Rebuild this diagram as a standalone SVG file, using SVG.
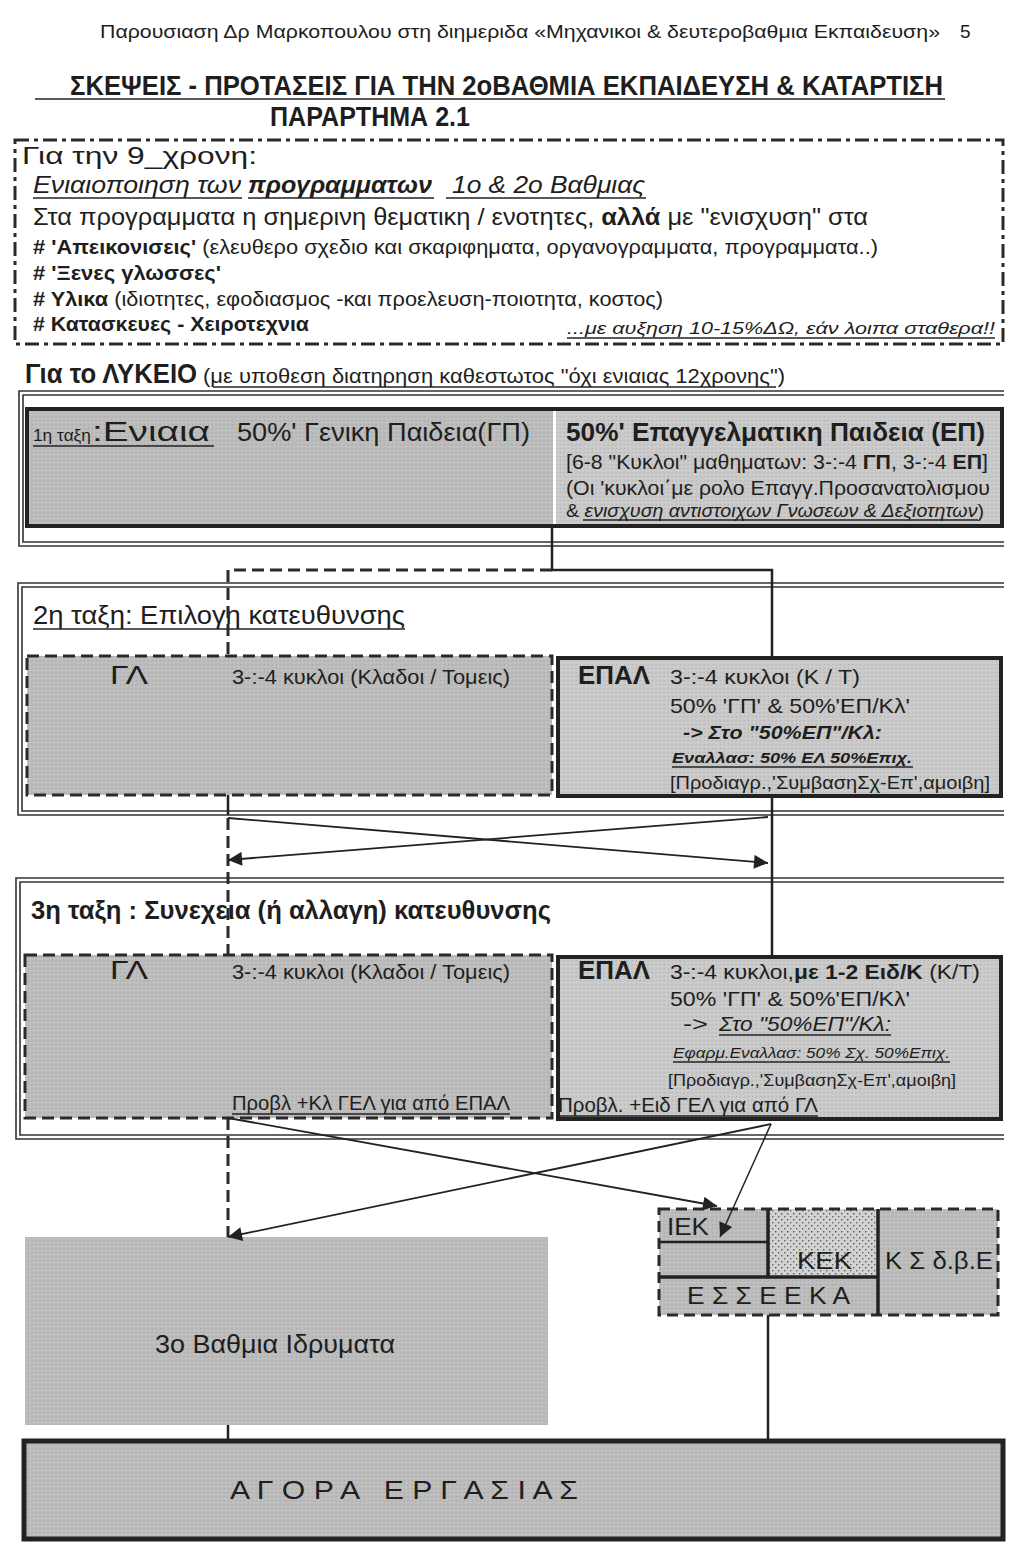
<svg xmlns="http://www.w3.org/2000/svg" width="1024" height="1552" viewBox="0 0 1024 1552">
<defs>
<style>
.t{font-family:"Liberation Sans",Arial,sans-serif;fill:#1e1e1e}
.b{font-weight:bold}
.i{font-style:italic}
.ln{stroke:#222;fill:none}
.frame{stroke:#333;stroke-width:1.6;fill:none}
.dash{stroke:#2a2a2a;stroke-width:3;fill:none;stroke-dasharray:12 6}
.ul{stroke:#222;stroke-width:1.5}
</style>
<pattern id="grain" width="4" height="4" patternUnits="userSpaceOnUse">
<rect width="4" height="4" fill="#bcbcbc"/>
<rect x="0" y="0" width="1" height="1" fill="#a9a9a9"/>
<rect x="2" y="2" width="1" height="1" fill="#cacaca"/>
<rect x="3" y="1" width="1" height="1" fill="#b0b0b0"/>
</pattern>
<pattern id="grainL" width="4" height="4" patternUnits="userSpaceOnUse">
<rect width="4" height="4" fill="#c9c9c9"/>
<rect x="0" y="0" width="1" height="1" fill="#b4b4b4"/>
<rect x="2" y="2" width="1" height="1" fill="#d6d6d6"/>
<rect x="3" y="1" width="1" height="1" fill="#bdbdbd"/>
</pattern>
<pattern id="dots" width="6" height="6" patternUnits="userSpaceOnUse">
<rect width="6" height="6" fill="#d2d2d2"/>
<rect x="1" y="1" width="1.4" height="1.4" fill="#555"/>
<rect x="4" y="4" width="1.4" height="1.4" fill="#666"/>
</pattern>
<marker id="ah" viewBox="0 0 10 10" refX="10" refY="5" markerWidth="18" markerHeight="14" markerUnits="userSpaceOnUse" orient="auto">
<path d="M0,0 L10,5 L0,10 z" fill="#222"/>
</marker>
</defs>
<rect width="1024" height="1552" fill="#ffffff"/>

<g id="header">
<text class="t" x="100" y="38" font-size="19" textLength="840" lengthAdjust="spacingAndGlyphs">Παρουσιαση Δρ Μαρκοπουλου στη διημεριδα «Μηχανικοι &amp; δευτεροβαθμια Εκπαιδευση»</text>
<text class="t" x="960" y="38" font-size="19">5</text>
<text class="t b" x="70" y="95" font-size="27" textLength="873" lengthAdjust="spacingAndGlyphs">ΣΚΕΨΕΙΣ - ΠΡΟΤΑΣΕΙΣ ΓΙΑ ΤΗΝ 2οΒΑΘΜΙΑ ΕΚΠΑΙΔΕΥΣΗ &amp; ΚΑΤΑΡΤΙΣΗ</text>
<line class="ul" x1="35" y1="99" x2="945" y2="99" stroke-width="2"/>
<text class="t b" x="270" y="126" font-size="27" textLength="200" lengthAdjust="spacingAndGlyphs">ΠΑΡΑΡΤΗΜΑ 2.1</text>
</g>

<g id="nine-year">
<rect x="15" y="140" width="988" height="204" fill="none" stroke="#2a2a2a" stroke-width="3" stroke-dasharray="14 5 4 5"/>
<text class="t" x="22" y="164" font-size="24" textLength="235" lengthAdjust="spacingAndGlyphs">Για την 9_χρονη:</text>
<text class="t i" x="33" y="193" font-size="24" textLength="208" lengthAdjust="spacingAndGlyphs">Ενιαιοποιηση των</text>
<text class="t b i" x="248" y="193" font-size="24" textLength="184" lengthAdjust="spacingAndGlyphs">προγραμματων</text>
<text class="t i" x="452" y="193" font-size="24" textLength="193" lengthAdjust="spacingAndGlyphs">1ο &amp; 2ο Βαθμιας</text>
<line class="ul" x1="33" y1="198" x2="242" y2="198"/>
<line class="ul" x1="248" y1="198" x2="434" y2="198"/>
<line class="ul" x1="446" y1="198" x2="646" y2="198"/>
<text class="t" x="33" y="225" font-size="24" textLength="835" lengthAdjust="spacingAndGlyphs">Στα προγραμματα η  σημερινη θεματικη / ενοτητες, <tspan class="b">αλλά</tspan> με "ενισχυση" στα</text>
<text class="t" x="33" y="254" font-size="19.5" textLength="845" lengthAdjust="spacingAndGlyphs"><tspan class="b"># 'Απεικονισεις'</tspan> (ελευθερο σχεδιο και σκαριφηματα, οργανογραμματα, προγραμματα..)</text>
<text class="t b" x="33" y="280" font-size="19.5" textLength="188" lengthAdjust="spacingAndGlyphs"># 'Ξενες γλωσσες'</text>
<text class="t" x="33" y="306" font-size="19.5" textLength="630" lengthAdjust="spacingAndGlyphs"><tspan class="b"># Υλικα</tspan> (ιδιοτητες, εφοδιασμος -και προελευση-ποιοτητα, κοστος)</text>
<text class="t b" x="33" y="331" font-size="19.5" textLength="276" lengthAdjust="spacingAndGlyphs"># Κατασκευες - Χειροτεχνια</text>
<text class="t i" x="567" y="334" font-size="17" textLength="428" lengthAdjust="spacingAndGlyphs">...με αυξηση 10-15%ΔΩ, εάν λοιπα σταθερα!!</text>
<line class="ul" x1="567" y1="338" x2="995" y2="338"/>
</g>

<g id="lykeio-title">
<text class="t b" x="25" y="383" font-size="27" textLength="172" lengthAdjust="spacingAndGlyphs">Για το ΛΥΚΕΙΟ</text>
<text class="t" x="203" y="383" font-size="21" textLength="582" lengthAdjust="spacingAndGlyphs">(με υποθεση διατηρηση καθεστωτος "όχι ενιαιας 12χρονης")</text>
<line class="ul" x1="213" y1="387" x2="776" y2="387"/>
</g>

<g id="frames">
<path class="frame" d="M1004,391 H19 V546 H1004"/>
<path class="frame" d="M1004,395 H23 V542 H1004"/>
<path class="frame" d="M1004,583 H18 V815 H1004"/>
<path class="frame" d="M1004,587 H22 V811 H1004"/>
<path class="frame" d="M1004,878 H16 V1139 H1004"/>
<path class="frame" d="M1004,882 H20 V1135 H1004"/>
</g>

<g id="class1">
<rect x="29" y="411" width="524" height="113" fill="url(#grain)"/>
<rect x="556" y="411" width="444" height="113" fill="url(#grainL)"/>
<rect x="27" y="409" width="975" height="117" fill="none" stroke="#222" stroke-width="4"/>
<text class="t" x="33" y="441" font-size="17" textLength="58" lengthAdjust="spacingAndGlyphs">1η ταξη</text>
<text class="t" x="92" y="441" font-size="27" textLength="118" lengthAdjust="spacingAndGlyphs">:Ενιαια</text>
<line class="ul" x1="33" y1="446" x2="214" y2="446" stroke-width="2"/>
<text class="t" x="237" y="441" font-size="26" textLength="293" lengthAdjust="spacingAndGlyphs">50%' Γενικη Παιδεια(ΓΠ)</text>
<text class="t b" x="566" y="441" font-size="26" textLength="419" lengthAdjust="spacingAndGlyphs">50%' Επαγγελματικη Παιδεια (ΕΠ)</text>
<text class="t" x="566" y="469" font-size="21" textLength="422" lengthAdjust="spacingAndGlyphs">[6-8 "Κυκλοι" μαθηματων: 3-:-4 <tspan class="b">ΓΠ</tspan>, 3-:-4 <tspan class="b">ΕΠ</tspan>]</text>
<text class="t" x="566" y="495" font-size="21" textLength="424" lengthAdjust="spacingAndGlyphs">(Οι 'κυκλοι΄με ρολο Επαγγ.Προσανατολισμου</text>
<text class="t" x="566" y="517" font-size="18.5" textLength="418" lengthAdjust="spacingAndGlyphs">&amp; <tspan class="i">ενισχυση αντιστοιχων Γνωσεων &amp; Δεξιοτητων</tspan>)</text>
<line class="ul" x1="583" y1="520" x2="978" y2="520" stroke-width="1.2"/>
</g>

<g id="class2-title">
<text class="t" x="33" y="624" font-size="25" textLength="372" lengthAdjust="spacingAndGlyphs">2η ταξη: Επιλογη κατευθυνσης</text>
<line class="ul" x1="33" y1="629" x2="405" y2="629" stroke-width="2"/>
</g>

<g id="gl2">
<rect x="27" y="656" width="525" height="139" fill="url(#grain)"/>
<rect x="27" y="656" width="525" height="139" fill="none" stroke="#2a2a2a" stroke-width="3" stroke-dasharray="12 6"/>
<text class="t" x="110" y="684" font-size="25" textLength="38" lengthAdjust="spacingAndGlyphs">ΓΛ</text>
<text class="t" x="232" y="684" font-size="21" textLength="278" lengthAdjust="spacingAndGlyphs">3-:-4 κυκλοι (Κλαδοι / Τομεις)</text>
</g>

<g id="epal2">
<rect x="558" y="658" width="443" height="138" fill="url(#grainL)" stroke="#222" stroke-width="4"/>
<text class="t b" x="578" y="684" font-size="25" textLength="72" lengthAdjust="spacingAndGlyphs">ΕΠΑΛ</text>
<text class="t" x="670" y="684" font-size="21" textLength="190" lengthAdjust="spacingAndGlyphs">3-:-4 κυκλοι  (Κ / Τ)</text>
<text class="t" x="670" y="713" font-size="21" textLength="240" lengthAdjust="spacingAndGlyphs">50% 'ΓΠ' &amp; 50%'ΕΠ/Κλ'</text>
<text class="t b i" x="683" y="739" font-size="18.5" textLength="199" lengthAdjust="spacingAndGlyphs">-&gt; Στο "50%ΕΠ"/Κλ:</text>
<text class="t b i" x="672" y="763" font-size="15.5" textLength="240" lengthAdjust="spacingAndGlyphs">Εναλλασ: 50%  ΕΛ 50%Επιχ.</text>
<line class="ul" x1="672" y1="767" x2="913" y2="767"/>
<text class="t" x="670" y="789" font-size="17.5" textLength="320" lengthAdjust="spacingAndGlyphs">[Προδιαγρ.,'ΣυμβασηΣχ-Επ',αμοιβη]</text>
</g>

<g id="class3-title">
<text class="t b" x="31" y="919" font-size="25" textLength="520" lengthAdjust="spacingAndGlyphs">3η ταξη : Συνεχεια (ή αλλαγη) κατευθυνσης</text>
</g>

<g id="gl3">
<rect x="25" y="955" width="527" height="163" fill="url(#grain)"/>
<rect x="25" y="955" width="527" height="163" fill="none" stroke="#2a2a2a" stroke-width="3" stroke-dasharray="12 6"/>
<text class="t" x="110" y="979" font-size="25" textLength="38" lengthAdjust="spacingAndGlyphs">ΓΛ</text>
<text class="t" x="232" y="979" font-size="21" textLength="278" lengthAdjust="spacingAndGlyphs">3-:-4 κυκλοι (Κλαδοι / Τομεις)</text>
<text class="t" x="232" y="1110" font-size="19.5" textLength="278" lengthAdjust="spacingAndGlyphs">Προβλ +Κλ ΓΕΛ για από ΕΠΑΛ</text>
<line class="ul" x1="232" y1="1114" x2="510" y2="1114"/>
</g>

<g id="epal3">
<rect x="558" y="957" width="443" height="162" fill="url(#grainL)" stroke="#222" stroke-width="4"/>
<text class="t b" x="578" y="979" font-size="25" textLength="72" lengthAdjust="spacingAndGlyphs">ΕΠΑΛ</text>
<text class="t" x="670" y="979" font-size="21" textLength="310" lengthAdjust="spacingAndGlyphs">3-:-4 κυκλοι,<tspan class="b">με 1-2 Ειδ/Κ</tspan>  (Κ/Τ)</text>
<text class="t" x="670" y="1006" font-size="21" textLength="240" lengthAdjust="spacingAndGlyphs">50% 'ΓΠ' &amp; 50%'ΕΠ/Κλ'</text>
<text class="t" x="683" y="1031" font-size="21" textLength="25" lengthAdjust="spacingAndGlyphs">-&gt;</text>
<text class="t i" x="719" y="1031" font-size="21" textLength="172" lengthAdjust="spacingAndGlyphs">Στο "50%ΕΠ"/Κλ:</text>
<line class="ul" x1="719" y1="1035" x2="891" y2="1035"/>
<text class="t i" x="673" y="1058" font-size="15.5" textLength="277" lengthAdjust="spacingAndGlyphs">Εφαρμ.Εναλλασ: 50% Σχ. 50%Επιχ.</text>
<line class="ul" x1="673" y1="1062" x2="950" y2="1062"/>
<text class="t" x="668" y="1086" font-size="16.5" textLength="288" lengthAdjust="spacingAndGlyphs">[Προδιαγρ.,'ΣυμβασηΣχ-Επ',αμοιβη]</text>
<text class="t" x="558" y="1112" font-size="19.5" textLength="260" lengthAdjust="spacingAndGlyphs">Προβλ. +Ειδ ΓΕΛ για από ΓΛ</text>
<line class="ul" x1="558" y1="1116" x2="818" y2="1116"/>
</g>

<g id="vocational">
<rect x="659" y="1209" width="339" height="106" fill="url(#grain)"/>
<rect x="768" y="1209" width="110" height="68" fill="url(#dots)"/>
<rect x="659" y="1209" width="339" height="106" fill="none" stroke="#2a2a2a" stroke-width="3" stroke-dasharray="11 6"/>
<path class="ln" stroke-width="2.5" d="M659,1242 H768"/>
<path class="ln" stroke-width="3.5" d="M768,1209 V1277 M659,1277 H878 M878,1209 V1315"/>
<text class="t" x="667" y="1235" font-size="24" textLength="42" lengthAdjust="spacingAndGlyphs">ΙΕΚ</text>
<text class="t" x="797" y="1269" font-size="24" textLength="55" lengthAdjust="spacingAndGlyphs">ΚΕΚ</text>
<text class="t" x="885" y="1269" font-size="24" textLength="108" lengthAdjust="spacingAndGlyphs">Κ Σ δ.β.Ε</text>
<text class="t" x="687" y="1304" font-size="24" textLength="163" lengthAdjust="spacingAndGlyphs">Ε Σ Σ Ε Ε Κ Α</text>
</g>

<g id="tertiary">
<rect x="25" y="1237" width="523" height="188" fill="url(#grain)"/>
<text class="t" x="275" y="1353" font-size="25" text-anchor="middle" textLength="240" lengthAdjust="spacingAndGlyphs">3ο Βαθμια Ιδρυματα</text>
</g>

<g id="labour-market">
<rect x="24" y="1441" width="979" height="98" fill="url(#grain)" stroke="#222" stroke-width="5"/>
<text class="t" x="230" y="1499" font-size="25" textLength="348" lengthAdjust="spacingAndGlyphs" xml:space="preserve">Α Γ Ο Ρ Α   Ε Ρ Γ Α Σ Ι Α Σ</text>
</g>

<g id="connectors">
<path class="ln" stroke-width="2.5" d="M552,526 V570 H772 V658"/>
<path class="dash" d="M552,570 H228 V656"/>
<path class="ln" stroke-width="2.5" d="M228,795 V815"/>
<path class="dash" d="M228,818 V955"/>
<path class="ln" stroke-width="2.5" d="M772,797 V957"/>
<path class="ln" stroke-width="1.8" d="M228,818 L768,863" marker-end="url(#ah)"/>
<path class="ln" stroke-width="1.8" d="M768,817 L228,860" marker-end="url(#ah)"/>
<path class="dash" d="M228,1118 V1237"/>
<path class="ln" stroke-width="1.8" d="M228,1118 L717,1206" marker-end="url(#ah)"/>
<path class="ln" stroke-width="1.8" d="M771,1124 L228,1237" marker-end="url(#ah)"/>
<path class="ln" stroke-width="1.5" d="M771,1124 L720,1237" marker-end="url(#ah)"/>
<path class="ln" stroke-width="2.5" d="M768,1315 V1441"/>
<path class="ln" stroke-width="2.5" d="M228,1425 V1441"/>
</g>
</svg>
